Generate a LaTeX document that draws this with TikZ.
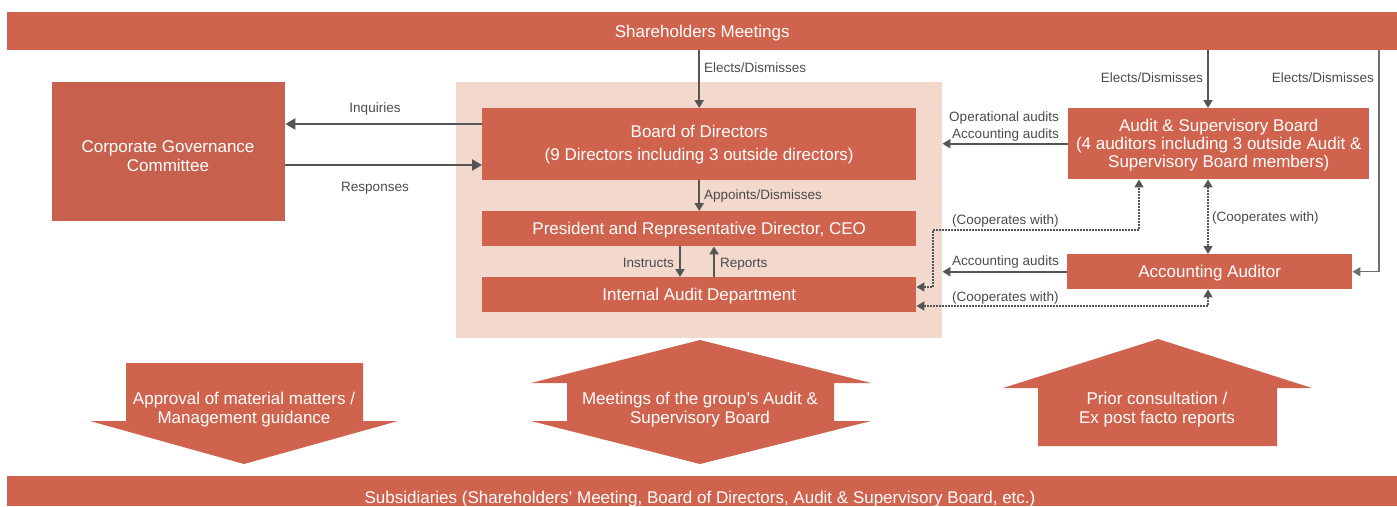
\documentclass[tikz,border=0pt]{standalone}
\usepackage{fontspec}
\setmainfont{Liberation Sans}
\usetikzlibrary{arrows.meta,calc}
\definecolor{boxc}{RGB}{208,99,77}
\definecolor{boxd}{RGB}{199,97,77}
\definecolor{bgc}{RGB}{242,216,205}
\definecolor{linec}{RGB}{85,85,85}
\definecolor{labc}{RGB}{75,75,75}
\begin{document}
\begin{tikzpicture}[x=1pt,y=-1pt,
 box/.style={fill=boxc, draw=none, anchor=north west, inner sep=0pt, text=white, font=\fontsize{17}{18}\selectfont, align=center, text depth=0pt},
 lab/.style={text=labc, font=\fontsize{13.5}{17}\selectfont, inner sep=0pt, text depth=0pt},
 arr/.style={draw=linec, line width=2.5pt, -{Triangle[length=10pt,width=11pt]}},
 varr/.style={draw=linec, line width=2pt, -{Triangle[length=8pt,width=9pt]}},
 dotarr/.style={draw=linec, line width=1.5pt, dash pattern=on 1.5pt off 1.5pt, arrows={Triangle[length=8pt,width=9pt]-Triangle[length=8pt,width=9pt]}},
 bigarrow/.style={fill=boxc, draw=none},
 bigtext/.style={text=white, font=\fontsize{17}{19}\selectfont, align=center, inner sep=0pt, text depth=0pt}]
\useasboundingbox (0,0) rectangle (1397,506);

% bars
\node[box, minimum width=1390pt, minimum height=38pt] (top) at (7,12) {Shareholders Meetings};
\fill[boxc] (7,476) rectangle (1397,506);
\node[bigtext] (sub) at (700,497) {Subsidiaries (Shareholders\symbol{39} Meeting, Board of Directors, Audit \& Supervisory Board, etc.)};

% background
\node[fill=bgc, draw=none, anchor=north west, inner sep=0pt, minimum width=486pt, minimum height=256pt] (bg) at (456,82) {};

% boxes
\node[box, fill=boxd, minimum width=233pt, minimum height=139pt] (cgc) at (52,82) {};
\node[bigtext] (cgct) at (168,156) {Corporate Governance\\Committee};
\node[box, minimum width=434pt, minimum height=72pt, font=\fontsize{17}{23}\selectfont, text depth=] (bod) at (482,108) {Board of Directors\\(9 Directors including 3 outside directors)};
\node[box, minimum width=434pt, minimum height=35pt] (pres) at (482,211) {President and Representative Director, CEO};
\node[box, minimum width=434pt, minimum height=35pt] (iad) at (482,277) {Internal Audit Department};
\node[box, minimum width=301pt, minimum height=71pt] (asb) at (1068,108) {Audit \& Supervisory Board\\(4 auditors including 3 outside Audit \&\\Supervisory Board members)};
\node[box, minimum width=285pt, minimum height=35pt] (aa) at (1067,254) {Accounting Auditor};

% helper coordinates
\coordinate (cInstr) at (680,0);
\coordinate (cRep) at (714,0);
\coordinate (cInq) at (0,124);
\coordinate (cResp) at (0,165);
\coordinate (cASB) at (1208,0);
\coordinate (cR) at (1379,0);
\coordinate (d1a) at (933,287);
\coordinate (d1b) at (933,230);
\coordinate (d1c) at (1139,230);
\coordinate (d3) at (1208,306);

% solid connectors
\draw[varr] (top.south -| bod.north) -- (bod.north);
\draw[varr] (bod.south) -- (pres.north);
\draw[varr] (pres.south -| cInstr) -- (iad.north -| cInstr);
\draw[varr] (iad.north -| cRep) -- (pres.south -| cRep);
\draw[arr] (bod.west |- cInq) -- (cgc.east |- cInq);
\draw[arr] (cgc.east |- cResp) -- (bod.west |- cResp);
\draw[varr] (top.south -| cASB) -- (asb.north -| cASB);
\draw[draw=linec!85, line width=1.5pt, -{Triangle[length=8pt,width=9pt]}] (top.south -| cR) -- (cR |- aa.east) -- (aa.east);
\draw[varr] (asb.west) -- (bg.east |- asb.west);
\draw[varr] (aa.west) -- (bg.east |- aa.west);

% dotted connectors
\draw[dotarr] (iad.east |- d1a) -- (d1a) -- (d1b) -- (d1c) -- (asb.south -| d1c);
\draw[dotarr] (asb.south -| cASB) -- (aa.north -| cASB);
\draw[dotarr] (iad.east |- d3) -- (d3) -- (aa.south -| d3);

% labels
\node[lab, anchor=west] (l1) at (704,68) {Elects/Dismisses};
\node[lab, anchor=west] (l2) at (704,195) {Appoints/Dismisses};
\node[lab, anchor=east] (l3) at (674,263) {Instructs};
\node[lab, anchor=west] (l4) at (720,263) {Reports};
\node[lab] (l5) at (375,108) {Inquiries};
\node[lab] (l6) at (375,187) {Responses};
\node[lab, anchor=east] (l7) at (1203,78) {Elects/Dismisses};
\node[lab, anchor=east] (l8) at (1374,78) {Elects/Dismisses};
\node[lab, anchor=east, align=right] (l9) at (1059,125) {Operational audits\\Accounting audits};
\node[lab, anchor=west] (l10) at (952,220) {(Cooperates with)};
\node[lab, anchor=west] (l11) at (1212,217) {(Cooperates with)};
\node[lab, anchor=west] (l12) at (952,261) {Accounting audits};
\node[lab, anchor=west] (l13) at (952,297) {(Cooperates with)};

% big arrows
\fill[bigarrow] (126,363) -- (363,363) -- (363,421) -- (398,421) -- (244,464) -- (90,421) -- (126,421) -- cycle;
\node[bigtext] (t1) at (244,408) {Approval of material matters /\\Management guidance};
\fill[bigarrow] (700,340) -- (871,383) -- (834,383) -- (834,421) -- (871,421) -- (700,464) -- (531,421) -- (567,421) -- (567,383) -- (531,383) -- cycle;
\node[bigtext] (t2) at (700,408) {Meetings of the group’s Audit \&\\Supervisory Board};
\fill[bigarrow] (1158,339) -- (1312,388) -- (1277,388) -- (1277,446) -- (1038,446) -- (1038,388) -- (1003,388) -- cycle;
\node[bigtext] (t3) at (1157,408) {Prior consultation /\\Ex post facto reports};
\end{tikzpicture}
\end{document}
